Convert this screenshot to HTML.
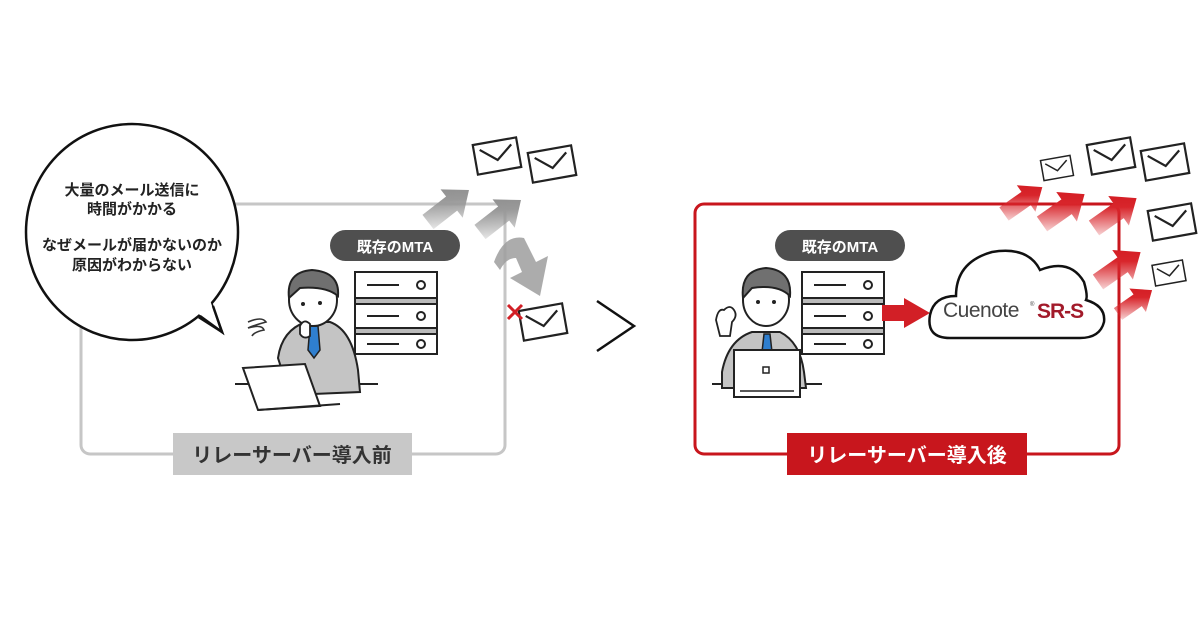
<!DOCTYPE html>
<html><head><meta charset="utf-8"><style>
html,body{margin:0;padding:0;background:#fff;width:1200px;height:630px;overflow:hidden}
svg text{font-family:"Liberation Sans","Noto Sans CJK JP",sans-serif}
</style></head><body>
<svg width="1200" height="630" viewBox="0 0 1200 630" xmlns="http://www.w3.org/2000/svg">
<defs>
<linearGradient id="gg" x1="0" y1="1" x2="1" y2="0"><stop offset="0" stop-color="#888" stop-opacity="0"/><stop offset="0.6" stop-color="#999"/><stop offset="1" stop-color="#888"/></linearGradient>
<linearGradient id="rg" x1="0" y1="1" x2="1" y2="0"><stop offset="0" stop-color="#d8252b" stop-opacity="0"/><stop offset="0.6" stop-color="#d8252b"/><stop offset="1" stop-color="#d0161d"/></linearGradient>
<g id="env"><rect x="-22" y="-15" width="44" height="30" fill="#fff" stroke="#222" stroke-width="2.2"/><polyline points="-16,-9 0,4 16,-9" fill="none" stroke="#222" stroke-width="2.2"/></g>
<g id="arw"><polygon points="0,-9 30,-9 30,-18 52,0 30,18 30,9 0,9"/></g>
<g id="srv">
<rect x="0" y="0" width="82" height="26" fill="#fff" stroke="#222" stroke-width="2"/>
<rect x="0" y="26" width="82" height="6" fill="#bbb" stroke="#222" stroke-width="2"/>
<rect x="0" y="32" width="82" height="24" fill="#fff" stroke="#222" stroke-width="2"/>
<rect x="0" y="56" width="82" height="6" fill="#bbb" stroke="#222" stroke-width="2"/>
<rect x="0" y="62" width="82" height="20" fill="#fff" stroke="#222" stroke-width="2"/>
<line x1="12" y1="13" x2="44" y2="13" stroke="#222" stroke-width="2"/><circle cx="66" cy="13" r="4" fill="none" stroke="#222" stroke-width="2"/>
<line x1="12" y1="44" x2="44" y2="44" stroke="#222" stroke-width="2"/><circle cx="66" cy="44" r="4" fill="none" stroke="#222" stroke-width="2"/>
<line x1="12" y1="72" x2="44" y2="72" stroke="#222" stroke-width="2"/><circle cx="66" cy="72" r="4" fill="none" stroke="#222" stroke-width="2"/>
</g>
</defs>

<rect x="81" y="204" width="424" height="250" rx="9" fill="none" stroke="#c6c6c6" stroke-width="3"/>
<rect x="173" y="433" width="239" height="42" fill="#c8c8c8"/>
<text x="292" y="462" text-anchor="middle" font-size="20" font-weight="bold" fill="#333">リレーサーバー導入前</text>

<path d="M200,318 L222,332 L212,305 Z" fill="#fff" stroke="#111" stroke-width="2.5"/>
<ellipse cx="132" cy="232" rx="106" ry="108" fill="#fff" stroke="#111" stroke-width="2.5"/>
<path d="M196,312 L220,330 L210,300" fill="#fff" stroke="none"/>
<path d="M200,316 L222,332 L213,306" fill="none" stroke="#111" stroke-width="2.5"/>
<g font-size="15" fill="#222" text-anchor="middle" font-weight="bold">
<text x="132" y="195">大量のメール送信に</text>
<text x="132" y="214">時間がかかる</text>
<text x="132" y="250">なぜメールが届かないのか</text>
<text x="132" y="270">原因がわからない</text>
</g>

<rect x="330" y="230" width="130" height="31" rx="15.5" fill="#4f4f4f"/>
<text x="395" y="252" text-anchor="middle" font-size="15" font-weight="bold" fill="#fff">既存のMTA</text>
<use href="#srv" x="355" y="272"/>

<line x1="235" y1="384" x2="378" y2="384" stroke="#222" stroke-width="2"/>
<path d="M278,358 Q282,330 306,322 L330,322 Q352,330 358,370 L360,392 L290,395 Z" fill="#c4c4c4" stroke="#222" stroke-width="2"/>
<polygon points="310,326 318,326 320,350 314,358 308,350" fill="#2f7fcf" stroke="#222" stroke-width="1.5"/>
<ellipse cx="313" cy="300" rx="24" ry="26" fill="#fff" stroke="#222" stroke-width="2"/>
<path d="M289,298 Q286,272 312,270 Q340,272 338,296 Q326,286 300,288 Z" fill="#707070" stroke="#222" stroke-width="2"/>
<circle cx="303" cy="304" r="2" fill="#222"/><circle cx="320" cy="303" r="2" fill="#222"/>
<path d="M300,326 q4,-8 10,-2 l0,12 q-6,4 -10,-2 z" fill="#fff" stroke="#222" stroke-width="1.8"/>
<path d="M248,322 q14,-6 18,0 q-14,4 -18,6 q14,-4 16,2 q-10,2 -12,6" fill="none" stroke="#333" stroke-width="1.6"/>
<polygon points="243,368 305,364 320,406 258,410" fill="#fff" stroke="#222" stroke-width="2"/>
<line x1="258" y1="410" x2="340" y2="404" stroke="#222" stroke-width="2"/>

<g fill="url(#gg)">
<use href="#arw" transform="translate(428,222) rotate(-38)"/>
<use href="#arw" transform="translate(480,232) rotate(-38)"/>
</g>
<path d="M494,262 Q504,234 524,238 L536,262 L548,256 L540,296 L510,278 L522,272 L516,258 Q506,258 500,270 Z" fill="#9e9e9e" opacity="0.85"/>
<use href="#env" transform="translate(497,156) rotate(-10)"/>
<use href="#env" transform="translate(552,164) rotate(-10)"/>
<use href="#env" transform="translate(543,322) rotate(-10)"/>
<path d="M508,305 l14,14 M522,305 l-14,14" stroke="#d21f26" stroke-width="3"/>

<polyline points="597,301 634,326 597,351" fill="none" stroke="#111" stroke-width="2.5"/>

<rect x="695" y="204" width="424" height="250" rx="9" fill="none" stroke="#c8161d" stroke-width="3"/>
<rect x="787" y="433" width="240" height="42" fill="#c8161d"/>
<text x="907" y="462" text-anchor="middle" font-size="20" font-weight="bold" fill="#fff">リレーサーバー導入後</text>

<rect x="775" y="230" width="130" height="31" rx="15.5" fill="#4f4f4f"/>
<text x="840" y="252" text-anchor="middle" font-size="15" font-weight="bold" fill="#fff">既存のMTA</text>
<use href="#srv" x="802" y="272"/>

<line x1="712" y1="384" x2="822" y2="384" stroke="#222" stroke-width="2"/>
<path d="M722,372 Q728,340 752,332 L780,332 Q800,342 804,372 L806,388 L722,388 Z" fill="#c4c4c4" stroke="#222" stroke-width="2"/>
<polygon points="764,334 770,334 772,352 767,356 762,352" fill="#2f7fcf" stroke="#222" stroke-width="1.5"/>
<ellipse cx="766" cy="300" rx="23" ry="26" fill="#fff" stroke="#222" stroke-width="2"/>
<path d="M743,298 Q740,270 766,268 Q792,270 790,296 Q778,284 752,288 Z" fill="#707070" stroke="#222" stroke-width="2"/>
<circle cx="758" cy="302" r="2" fill="#222"/><circle cx="774" cy="302" r="2" fill="#222"/>
<path d="M716,320 q2,-12 8,-10 q6,-6 10,0 q4,6 -2,12 l-2,14 l-10,0 z" fill="#fff" stroke="#222" stroke-width="1.8"/>
<rect x="734" y="350" width="66" height="47" fill="#fff" stroke="#222" stroke-width="2"/>
<rect x="763" y="367" width="6" height="6" fill="none" stroke="#222" stroke-width="1.5"/>
<line x1="740" y1="391" x2="794" y2="391" stroke="#222" stroke-width="1.5"/>

<polygon points="882,305 904,305 904,298 930,313 904,328 904,321 882,321" fill="#d21f26"/>

<path d="M950,338 Q926,338 930,315 Q934,296 956,296 Q956,262 992,252 Q1028,246 1040,270 Q1070,258 1084,282 Q1088,296 1086,300 Q1106,306 1104,322 Q1100,338 1080,338 Z" fill="#fff" stroke="#111" stroke-width="2.5"/>
<text x="943" y="317" font-size="21" fill="#444" letter-spacing="-0.5">Cuenote</text>
<text x="1030" y="306" font-size="6" fill="#444">®</text>
<text x="1037" y="318" font-size="21" font-weight="bold" fill="#a21a2a" letter-spacing="-1">SR-S</text>

<g fill="url(#rg)">
<use href="#arw" transform="translate(1004,214) rotate(-35) scale(0.9)"/>
<use href="#arw" transform="translate(1042,224) rotate(-35)"/>
<use href="#arw" transform="translate(1094,228) rotate(-35)"/>
<use href="#arw" transform="translate(1098,282) rotate(-35)"/>
<use href="#arw" transform="translate(1118,314) rotate(-35) scale(0.8)"/>
</g>
<use href="#env" transform="translate(1057,168) rotate(-10) scale(0.68)"/>
<use href="#env" transform="translate(1111,156) rotate(-10)"/>
<use href="#env" transform="translate(1165,162) rotate(-10)"/>
<use href="#env" transform="translate(1172,222) rotate(-10)"/>
<use href="#env" transform="translate(1169,273) rotate(-10) scale(0.7)"/>
</svg>
</body></html>
